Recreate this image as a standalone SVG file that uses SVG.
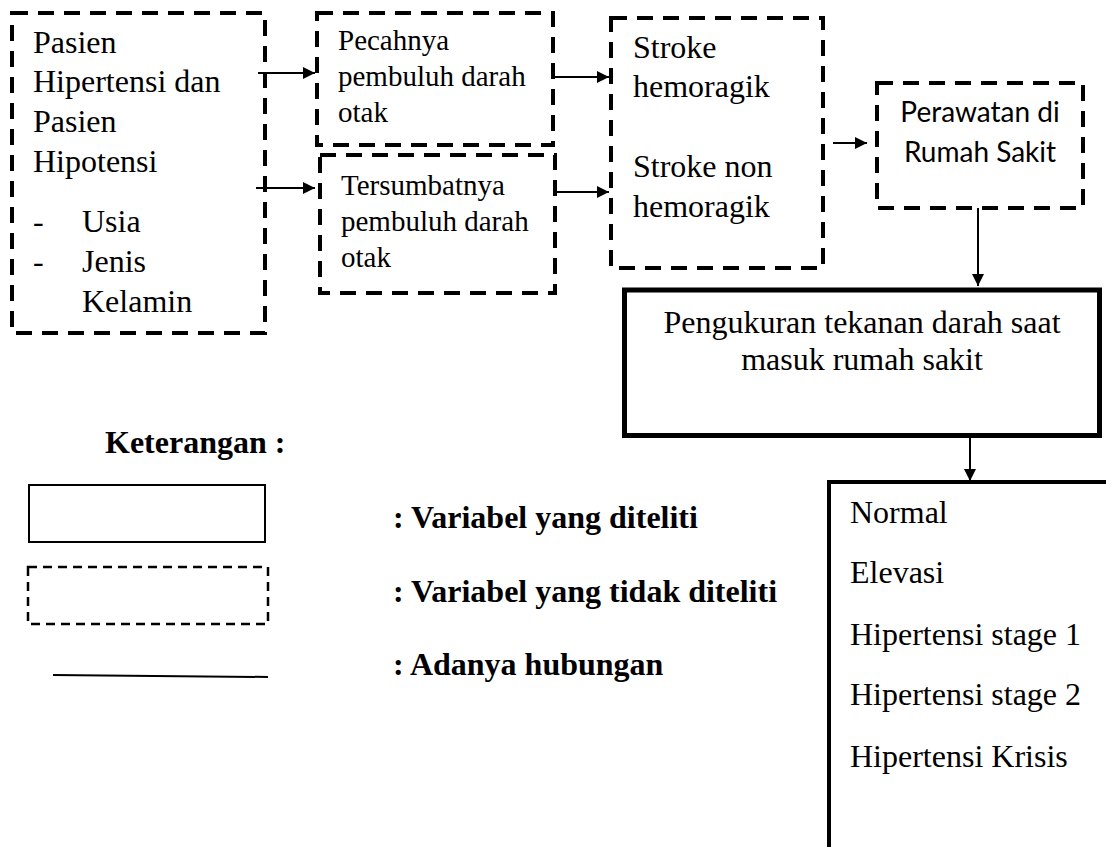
<svg xmlns="http://www.w3.org/2000/svg" width="1106" height="847" viewBox="0 0 1106 847">
<style>
.dash{fill:none;stroke:#000;stroke-width:4;stroke-dasharray:16 10}
.solid{fill:none;stroke:#000}
.t{font-family:"Liberation Serif","Times New Roman",serif;font-size:32px;fill:#000}
.t2{font-family:"Liberation Serif","Times New Roman",serif;font-size:29px;fill:#000}
.s{font-family:Lato,"Liberation Sans",sans-serif;font-size:28px;fill:#000}
.b{font-family:"Liberation Serif","Times New Roman",serif;font-size:32px;font-weight:bold;fill:#000}
.c{stroke:#000;stroke-width:2;fill:none}
</style>
<defs>
<marker id="ah" viewBox="0 0 10 10" refX="10" refY="5" markerWidth="6" markerHeight="6" orient="auto" markerUnits="strokeWidth">
<path d="M0,0 L10,5 L0,10 Z" fill="#000"/>
</marker>
</defs>
<rect width="1106" height="847" fill="#fff"/>

<g id="pasien">
<rect class="dash" x="12" y="13" width="253" height="320"/>
<text class="t" x="33" y="53">Pasien</text>
<text class="t" x="33" y="92">Hipertensi dan</text>
<text class="t" x="33" y="132">Pasien</text>
<text class="t" x="33" y="172">Hipotensi</text>
<text class="t" x="33" y="232">-</text>
<text class="t" x="82" y="232">Usia</text>
<text class="t" x="33" y="272">-</text>
<text class="t" x="82" y="272">Jenis</text>
<text class="t" x="82" y="312">Kelamin</text>
</g>

<g id="pecahnya">
<rect class="dash" x="317" y="13" width="236" height="132"/>
<text class="t2" x="338" y="50">Pecahnya</text>
<text class="t2" x="338" y="86">pembuluh darah</text>
<text class="t2" x="338" y="122">otak</text>
</g>

<g id="tersumbatnya">
<rect class="dash" x="320" y="155" width="235" height="138"/>
<text class="t2" x="341" y="195">Tersumbatnya</text>
<text class="t2" x="341" y="231">pembuluh darah</text>
<text class="t2" x="341" y="267">otak</text>
</g>

<g id="stroke">
<rect class="dash" x="611" y="18" width="212" height="250"/>
<text class="t" x="633" y="58">Stroke</text>
<text class="t" x="633" y="97">hemoragik</text>
<text class="t" x="633" y="177">Stroke non</text>
<text class="t" x="633" y="217">hemoragik</text>
</g>

<g id="perawatan">
<rect class="dash" x="877" y="83" width="206" height="125"/>
<text class="s" x="980" y="122" text-anchor="middle">Perawatan di</text>
<text class="s" x="980" y="162" text-anchor="middle">Rumah Sakit</text>
</g>

<g id="pengukuran">
<rect class="solid" x="624.5" y="290" width="475" height="145.5" stroke-width="5"/>
<text class="t" x="862" y="333" text-anchor="middle">Pengukuran tekanan darah saat</text>
<text class="t" x="862" y="370" text-anchor="middle">masuk rumah sakit</text>
</g>

<g id="kategori">
<path class="solid" d="M829,860 V482 H1110" stroke-width="4"/>
<text class="t" x="850" y="523">Normal</text>
<text class="t" x="850" y="583">Elevasi</text>
<text class="t" x="850" y="645">Hipertensi stage 1</text>
<text class="t" x="850" y="705">Hipertensi stage 2</text>
<text class="t" x="850" y="767">Hipertensi Krisis</text>
</g>

<g id="connectors">
<line class="c" x1="258" y1="73" x2="315" y2="73" marker-end="url(#ah)"/>
<line class="c" x1="256" y1="188" x2="315" y2="188" marker-end="url(#ah)"/>
<line class="c" x1="553" y1="77" x2="609" y2="77" marker-end="url(#ah)"/>
<line class="c" x1="556" y1="192" x2="609" y2="192" marker-end="url(#ah)"/>
<line class="c" x1="833" y1="143" x2="867" y2="143" marker-end="url(#ah)"/>
<line class="c" x1="978" y1="208" x2="978" y2="286" marker-end="url(#ah)"/>
<line class="c" x1="970" y1="438" x2="970" y2="481" marker-end="url(#ah)"/>
</g>

<g id="legend">
<text class="b" x="105" y="453">Keterangan :</text>
<rect x="29" y="485" width="236" height="57" fill="none" stroke="#000" stroke-width="2"/>
<rect x="28" y="567" width="240" height="57" fill="none" stroke="#000" stroke-width="2.5" stroke-dasharray="9 6"/>
<line x1="53" y1="675" x2="268" y2="677" stroke="#000" stroke-width="2"/>
<text class="b" x="393" y="528">: Variabel yang diteliti</text>
<text class="b" x="393" y="602">: Variabel yang tidak diteliti</text>
<text class="b" x="393" y="675">: Adanya hubungan</text>
</g>
</svg>
